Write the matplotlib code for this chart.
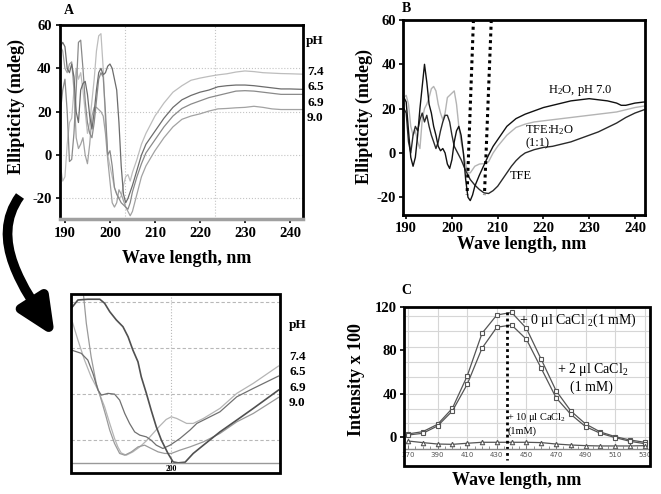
import matplotlib
matplotlib.use("Agg")
import matplotlib.pyplot as plt
from matplotlib.patches import FancyArrowPatch, Rectangle
from matplotlib.path import Path
from matplotlib.ticker import MultipleLocator

W, H = 661, 494


def fx(x):
    return x / W


def fy(y):
    return 1 - y / H


plt.rcParams.update({
    'font.family': ['Liberation Serif', 'DejaVu Serif'],
    'font.weight': 'bold',
    'mathtext.fontset': 'custom',
    'mathtext.rm': 'Liberation Serif',
    'mathtext.it': 'Liberation Serif:italic',
    'mathtext.bf': 'Liberation Serif:bold',
    'mathtext.default': 'regular',
    'axes.unicode_minus': False,
})

# ---------------- Panel A: CD spectra at different pH ----------------
A_ph74 = [(189, -5), (189.5, -12), (190, -10), (190.5, 5), (191, 15), (191.5, 17), (192, 30), (192.5, 40),
          (193, 35), (193.5, 38), (194, 30), (194.5, 20), (195, 10), (195.5, 15), (196, 25), (196.5, 35),
          (197, 48), (197.5, 55), (198, 56), (198.5, 40), (199, 15), (199.5, 0), (200, -5), (200.5, -10),
          (201, -15), (201.5, -18), (202, -20), (202.5, -19), (203, -14), (203.5, -10), (204, -9),
          (204.5, -12), (205, -8), (206, -2), (207, 5), (208, 10), (209, 14), (210, 18), (212, 24),
          (214, 29), (216, 32), (218, 34.5), (220, 35.5), (222, 36.3), (224, 37), (226, 37.5), (228, 38.3),
          (230, 38.8), (232, 38.5), (234, 38), (236, 37.8), (238, 37.6), (240, 37.5), (243, 37.3)]
A_ph65 = [(189, 50), (189.5, 52), (190, 50), (190.5, 40), (191, 38), (191.5, 42), (192, 36), (192.5, 20),
          (193, 15), (193.5, 30), (194, 33), (194.5, 34), (195, 28), (195.5, 18), (196, 12), (196.5, 20),
          (197, 30), (197.5, 38), (198, 40), (198.5, 37), (199, 38), (199.5, 41), (200, 42), (200.5, 40),
          (201, 35), (201.5, 30), (202, 15), (202.5, -5), (203, -18), (203.5, -22), (204, -20), (205, -14),
          (206, -7), (207, 0), (208, 5), (210, 11), (212, 17), (214, 22), (216, 25.5), (218, 27.5),
          (220, 29), (222, 30), (224, 31.5), (226, 32), (228, 32.3), (230, 32.3), (232, 32), (234, 31.5),
          (236, 31), (238, 30.5), (240, 30.5), (243, 30.3)]
A_ph69 = [(189, 20), (189.5, 30), (190, 35), (190.5, 20), (191, -3), (191.5, -2), (192, 10), (192.5, 30),
          (193, 52), (193.5, 53), (194, 40), (194.5, 25), (195, 15), (195.5, 10), (196, 8), (196.5, 15),
          (197, 25), (197.5, 35), (198, 38), (198.5, 36), (199, 20), (199.5, 0), (200, 2), (200.5, -5),
          (201, -15), (201.5, -18), (202, -20), (202.5, -22), (203, -23), (203.5, -24), (204, -25),
          (204.5, -22), (205, -17), (206, -10), (207, -4), (208, 1), (210, 7), (212, 13), (214, 18),
          (216, 21.5), (218, 23.5), (220, 25), (222, 26.5), (224, 27.5), (226, 28.5), (228, 29.5),
          (230, 29.7), (232, 29.5), (234, 29), (236, 28.5), (238, 28), (240, 28), (243, 28)]
A_ph90 = [(189, 50), (189.5, 48), (190, 40), (190.5, 38), (191, 42), (191.5, 43), (192, 30), (192.5, 8),
          (193, 3), (193.5, 5), (194, 8), (194.5, 0), (195, -4), (195.5, 5), (196, 18), (196.5, 22),
          (197, 22), (197.5, 21), (198, 20), (198.5, 18), (199, 10), (199.5, -2), (200, -12), (200.5, -22),
          (201, -24), (201.5, -22), (202, -16), (202.5, -18), (203, -21), (203.5, -24), (204, -26),
          (204.5, -28), (205, -26), (206, -18), (207, -10), (208, -5), (210, 2), (212, 8), (214, 13),
          (216, 16.5), (218, 18), (220, 19), (222, 20.3), (224, 21.3), (226, 21.5), (228, 21.8), (230, 22),
          (232, 22.5), (234, 22), (236, 21.3), (238, 21), (240, 21), (243, 21)]
A_labels = ['7.4', '6.5', '6.9', '9.0']
A_xticks = [190, 200, 210, 220, 230, 240]
A_yticks = [-20, 0, 20, 40, 60]
A_hgrid = [-20, 0, 20, 40]
A_vgrid = [203.3, 223.3]

# ---------------- Panel B: CD spectra in solvents ----------------
B_h2o = [(189.5, 25), (190, 23), (190.5, 10), (191, -2), (191.5, -6), (192, -2), (192.5, 8), (193, 20),
         (193.5, 30), (194, 40), (194.5, 32), (195, 22), (195.5, 18), (196, 12), (196.5, 8), (197, 3),
         (197.5, 1), (198, 2), (198.5, 0), (199, -5), (199.5, -7), (200, -3), (200.5, 5), (201, 10),
         (201.5, 12), (202, 8), (202.5, 0), (203, -12), (203.5, -20), (204, -21.5), (204.5, -19), (205, -15),
         (206, -10), (207, -5.5), (208, -1), (209, 3), (210, 6), (212, 12), (214, 15.5), (216, 17.5),
         (218, 19), (220, 20.5), (222, 21.5), (224, 22.5), (226, 23.5), (228, 24), (230, 24.5), (232, 24),
         (234, 23.5), (236, 22.5), (237, 21.5), (238, 21.5), (240, 22.5), (242, 23), (243, 23)]
B_tfe = [(189.5, 20), (190, 18), (190.5, 5), (191, 0), (191.5, 8), (192, 12), (192.5, 10), (193, 15),
         (193.5, 18), (194, 14), (194.5, 17), (195, 12), (195.5, 8), (196, 5), (196.5, 2), (197, 5),
         (197.5, 10), (198, 14), (198.5, 17), (199, 17), (199.5, 14), (200, 8), (200.5, 3), (201, 1),
         (201.5, -1), (202, -3), (203, -8), (204, -12), (205, -14.5), (206, -16.5), (207, -18), (208, -18.3),
         (209, -17), (210, -15), (211, -12), (212, -9), (213, -6), (214, -3.5), (215, -1.5), (216, 0),
         (218, 1.5), (220, 2.5), (222, 3), (224, 4), (226, 5), (228, 6.5), (230, 8), (232, 9.5),
         (234, 11.5), (236, 13.5), (238, 16), (240, 18), (242, 19.5), (243, 20)]
B_mix = [(189.5, 25), (190, 26), (190.5, 22), (191, 12), (191.5, 8), (192, 10), (192.5, 5), (193, 2),
         (193.5, 15), (194, 20), (194.5, 22), (195, 25), (195.5, 29), (196, 30), (196.5, 28), (197, 22),
         (197.5, 18), (198, 15), (198.5, 18), (199, 25), (199.5, 26), (200, 27), (200.5, 28), (201, 22),
         (201.5, 12), (202, 5), (202.5, 0), (203, -5), (203.5, -9), (204, -9), (204.5, -7.5), (205, -6),
         (206, -5), (207, -4.8), (208, -4), (209, 0), (210, 3), (212, 8), (214, 11.5), (216, 13),
         (218, 14), (220, 14.5), (222, 15), (224, 15.5), (226, 16), (228, 16.5), (230, 17), (232, 17.5),
         (234, 18), (236, 18.5), (238, 19.5), (240, 20.5), (243, 21.5)]
B_guides = [[(204.7, 60), (203.3, -19)], [(208.6, 60), (207.1, -19)]]
B_xticks = [190, 200, 210, 220, 230, 240]
B_yticks = [-20, 0, 20, 40, 60]

# ---------------- Panel C: fluorescence with CaCl2 ----------------
C_wl = [370, 380, 390, 400, 410, 420, 430, 440, 450, 460, 470, 480, 490, 500, 510, 520, 530]
C_0ul = [2.8, 4.9, 11.7, 26.5, 56.3, 95.7, 112.6, 115.0, 100.3, 71.7, 42.8, 24.0, 12.0, 4.6, 0.3, -2.8, -4.9]
C_2ul = [1.8, 3.4, 10.2, 24.0, 48.6, 81.9, 101.3, 103.4, 90.2, 63.4, 36.3, 20.9, 9.5, 3.4, -0.6, -4.0, -6.2]
C_10ul = [-3.7, -5.2, -6.5, -6.8, -5.8, -4.9, -4.9, -4.9, -4.9, -5.2, -6.5, -7.4, -8.0, -8.3, -8.3, -8.3, -8.0]
C_peak = [(436.7, 115), (436.7, -21)]
C_xticks = [370, 390, 410, 430, 450, 470, 490, 510, 530]
C_yticks = [0, 40, 80, 120]
C_hgrid = [12.5, 26, 40, 55, 69, 83, 98, 112]
C_vgrid = [370, 390, 410, 430, 450, 470, 490, 510, 530]

# ---------------- Inset: zoom around 200 nm ----------------
I_ph69 = [(196.68, -10.65), (196.9, -9.75), (197.23, -9.67), (197.63, -9.67), (197.79, -10.11),
          (197.96, -11.02), (198.18, -11.92), (198.4, -12.65), (198.57, -13.74), (198.73, -15.18),
          (198.9, -16.46), (199.01, -18.09), (199.18, -19.89), (199.34, -21.71), (199.51, -23.52),
          (199.68, -24.97), (199.9, -26.41), (200.07, -27.33), (200.24, -27.43), (200.47, -27.36),
          (200.74, -26.41), (201.08, -25.51), (201.63, -24.07), (202.19, -22.79), (202.74, -21.52),
          (203.58, -19.53)]
I_ph90 = [(197.07, -8.66), (197.18, -12.28), (197.34, -15.91), (197.51, -18.8), (197.68, -20.62),
          (197.84, -22.43), (197.96, -23.88), (198.12, -25.33), (198.29, -26.41), (198.46, -26.6),
          (198.68, -26.24), (198.9, -25.7), (199.12, -25.51), (199.34, -25.87), (199.57, -26.24),
          (199.79, -26.41), (200.01, -26.41), (200.3, -26.05), (200.63, -25.7), (201.08, -25.15),
          (201.63, -24.24), (202.19, -22.98), (202.74, -22.07), (203.58, -20.33)]
I_ph74 = [(196.68, -11.74), (196.9, -14.1), (197.12, -16.27), (197.34, -18.09), (197.57, -19.53),
          (197.79, -21.35), (197.96, -23.15), (198.12, -24.78), (198.23, -25.7), (198.34, -26.35),
          (198.51, -26.6), (198.73, -26.24), (198.96, -25.7), (199.18, -25.04), (199.4, -24.24),
          (199.62, -23.45), (199.84, -22.72), (200.01, -22.43), (200.19, -22.61), (200.52, -23.15),
          (200.74, -23.15), (201.08, -22.61), (201.63, -21.52), (202.19, -19.89), (202.74, -18.8),
          (203.58, -16.92)]
I_ph65 = [(196.68, -15.18), (197.01, -15.54), (197.23, -16.27), (197.4, -17.72), (197.57, -19.53),
          (197.68, -20.08), (197.9, -19.89), (198.12, -19.97), (198.29, -20.62), (198.46, -22.07),
          (198.62, -23.15), (198.79, -24.07), (198.96, -24.42), (199.18, -24.61), (199.34, -24.97),
          (199.51, -25.51), (199.73, -25.87), (199.97, -25.51), (200.3, -24.78), (200.63, -23.88),
          (200.86, -23.15), (201.08, -22.79), (201.63, -21.89), (202.19, -20.26), (202.74, -19.35),
          (203.58, -18.01)]
I_hgrid = [-10, -15, -20, -25]
I_xticks = [200]

fig = plt.figure(figsize=(W / 100, H / 100), dpi=100)


def add_ax(l, t, r, b):
    return fig.add_axes([fx(l), fy(b), (r - l) / W, (b - t) / H])


def txt(x, y, s, **kw):
    kw.setdefault('va', 'center')
    fig.text(fx(x), fy(y), s, **kw)


# ----- Panel A -----
axA = add_ax(60, 25, 303, 219)
for y in A_hgrid:
    axA.axhline(y, color='#c4c4c4', lw=0.8, ls=':', zorder=0)
for x in A_vgrid:
    axA.axvline(x, color='#c4c4c4', lw=0.8, ls=':', zorder=0)
for d, c in [(A_ph74, '#bdbdbd'), (A_ph90, '#a2a2a2'), (A_ph69, '#8a8a8a'), (A_ph65, '#6c6c6c')]:
    xs, ys = zip(*d)
    axA.plot(xs, ys, color=c, lw=0.9)
axA.set_xlim(188.9, 242.9)
axA.set_ylim(-29.5, 60)
axA.set_xticks(A_xticks)
axA.set_yticks(A_yticks)
axA.tick_params(labelsize=10.5, length=3, width=1.2, direction='out', pad=3)
for s in ['left', 'top', 'right']:
    axA.spines[s].set_linewidth(2)
axA.spines['bottom'].set_linewidth(2.5)
axA.spines['bottom'].set_color('#a0a0a0')

txt(69, 11, 'A', fontsize=10, ha='center')
txt(16, 107, 'Ellipticity (mdeg)', fontsize=13, rotation=90, ha='center')
txt(187, 258, 'Wave length, nm', fontsize=13, ha='center')
txt(306, 41, 'pH', fontsize=9.5, ha='left')
for lab, y in zip(A_labels, [72, 87, 103, 118]):
    txt(307, y, lab, fontsize=9.5, ha='left')

# ----- Panel B -----
axB = add_ax(403, 20, 645, 215)
for d, c in [(B_mix, '#b4b4b4'), (B_tfe, '#2a2a2a'), (B_h2o, '#111111')]:
    xs, ys = zip(*d)
    axB.plot(xs, ys, color=c, lw=1.0)
for g in B_guides:
    xs, ys = zip(*g)
    axB.plot(xs, ys, color='black', lw=2.2, ls=(0, (1, 1.2)))
axB.set_xlim(189.3, 242.2)
axB.set_ylim(-28, 60)
axB.set_xticks(B_xticks)
axB.set_yticks(B_yticks)
axB.tick_params(labelsize=10.5, length=3, width=1.2, direction='out', pad=2)
for s in axB.spines.values():
    s.set_linewidth(2)

txt(406, 9, 'B', fontsize=10, ha='center')
txt(364, 117, 'Ellipticity (mdeg)', fontsize=13, rotation=90, ha='center')
txt(522, 244, 'Wave length, nm', fontsize=13, ha='center')
txt(548, 90, 'H$_2$O, pH 7.0', fontsize=9, ha='left', fontweight='normal')
txt(525, 130, 'TFE:H$_2$O', fontsize=9, ha='left', fontweight='normal')
txt(525, 143, '(1:1)', fontsize=9, ha='left', fontweight='normal')
txt(510, 176, 'TFE', fontsize=9, ha='left', fontweight='normal')

# ----- Panel C -----
axC = add_ax(404, 307, 650, 466)
for y in C_hgrid:
    axC.axhline(y, color='#d6d6d6', lw=0.8, zorder=0)
for x in C_vgrid:
    axC.axvline(x, ymin=0.11, color='#d6d6d6', lw=0.8, zorder=0)
axC.axhline(0, color='#d6d6d6', lw=0.8, zorder=0)
axC.plot(C_wl, C_0ul, color='#555555', lw=0.9, marker='s', ms=3.2, mfc='white', mec='#555555', mew=0.8)
axC.plot(C_wl, C_2ul, color='#555555', lw=0.9, marker='s', ms=3.2, mfc='white', mec='#555555', mew=0.8)
axC.plot(C_wl, C_10ul, color='#555555', lw=0.9, marker='^', ms=3.2, mfc='white', mec='#555555', mew=0.8)
xs, ys = zip(*C_peak)
axC.plot(xs, ys, color='black', lw=2, ls=(0, (1, 1.2)), clip_on=False)
axC.set_xlim(367.3, 533.5)
axC.set_ylim(-26.8, 120)
axC.set_yticks(C_yticks)
axC.set_xticks(C_xticks)
axC.xaxis.set_minor_locator(MultipleLocator(5))
for s in ['left', 'top', 'right']:
    axC.spines[s].set_visible(False)
axC.spines['bottom'].set_position(('data', -11))
axC.spines['bottom'].set_color('#888888')
axC.spines['bottom'].set_linewidth(1)
axC.tick_params(axis='y', labelsize=10.5, length=3, width=1.2, direction='out', pad=2)
axC.tick_params(axis='x', which='major', labelsize=5, labelcolor='#555555', length=3, width=0.6,
                direction='in', color='#666666', pad=2)
axC.tick_params(axis='x', which='minor', length=2, width=0.5, direction='in', color='#666666')
for lab in axC.get_xticklabels():
    lab.set_fontfamily('DejaVu Sans')
    lab.set_fontweight('normal')
axC.add_patch(Rectangle((0, 0), 1, 1, transform=axC.transAxes, fill=False, lw=2, ec='black',
                        clip_on=False, zorder=5))

txt(406, 291, 'C', fontsize=10, ha='center')
txt(357, 380, 'Intensity x 100', fontsize=13, rotation=90, ha='center')
txt(517, 480, 'Wave length, nm', fontsize=13, ha='center')
txt(519, 320, '+ 0 μl CaCl $_2$(1 mM)', fontsize=10, ha='left', fontweight='normal')
txt(557, 370, '+ 2 μl CaCl$_2$', fontsize=10, ha='left', fontweight='normal')
txt(570, 387, '(1 mM)', fontsize=10, ha='left', fontweight='normal')
txt(507, 417, '+ 10 μl CaCl$_2$', fontsize=7.5, ha='left', fontweight='normal')
txt(508, 431, '(1mM)', fontsize=7.5, ha='left', fontweight='normal')

# ----- Inset -----
axI = add_ax(71.3, 294, 280, 472.7)
for y in I_hgrid:
    axI.axhline(y, color='#b8b8b8', lw=0.8, ls=(0, (3, 2)), zorder=0)
axI.axvline(200, ymin=(-27.5 + 28.5) / 19.4, color='#b8b8b8', lw=0.8, ls=':', zorder=0)
for d, c, lw in [(I_ph74, '#b4b4b4', 0.9), (I_ph90, '#9a9a9a', 0.9), (I_ph65, '#707070', 0.9),
                 (I_ph69, '#505050', 1.2)]:
    xs, ys = zip(*d)
    axI.plot(xs, ys, color=c, lw=lw)
axI.set_xlim(196.68, 203.63)
axI.set_ylim(-28.5, -9.1)
axI.set_yticks([])
axI.set_xticks(I_xticks)
for s in ['left', 'top', 'right']:
    axI.spines[s].set_visible(False)
axI.spines['bottom'].set_position(('data', -27.5))
axI.spines['bottom'].set_color('#999999')
axI.spines['bottom'].set_linewidth(1)
axI.tick_params(axis='x', labelsize=5.5, length=2, width=0.6, direction='in', pad=1)
axI.add_patch(Rectangle((0, 0), 1, 1, transform=axI.transAxes, fill=False, lw=2, ec='black',
                        clip_on=False, zorder=5))

txt(289, 325, 'pH', fontsize=9.5, ha='left')
for lab, y in zip(A_labels, [357, 372, 388, 403]):
    txt(289, y, lab, fontsize=9.5, ha='left')

# ----- Curved arrow from panel A to inset -----
arrow_path = Path([(fx(20), fy(196)), (fx(-12), fy(240)), (fx(25), fy(290)), (fx(55), fy(337))],
                  [Path.MOVETO, Path.CURVE4, Path.CURVE4, Path.CURVE4])
arrow = FancyArrowPatch(path=arrow_path, transform=fig.transFigure,
                        arrowstyle='-|>,head_length=1.1,head_width=0.5',
                        mutation_scale=20, color='black', lw=7, capstyle='butt')
fig.patches.append(arrow)

fig.savefig('out.png', dpi=100)
